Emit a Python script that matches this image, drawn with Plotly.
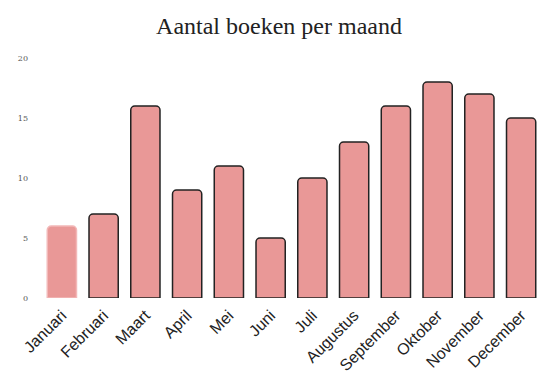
import plotly.graph_objects as go

months = ["Januari", "Februari", "Maart", "April", "Mei", "Juni", "Juli",
          "Augustus", "September", "Oktober", "November", "December"]
books = [6, 7, 16, 9, 11, 5, 10, 13, 16, 18, 17, 15]
outline_colors = ["#F2B8B8"] + ["#222222"] * 11

fig = go.Figure(go.Bar(
    x=months, y=books,
    marker=dict(color="#E99897", line=dict(color=outline_colors, width=1.5),
                cornerradius=4),
))

# page body has an 8px default margin, so the figure is sized to fit inside
W, H = 541, 381
fig.update_layout(
    width=W, height=H,
    paper_bgcolor="white", plot_bgcolor="white",
    margin=dict(l=33, r=7, t=50, b=91, autoexpand=False),
    bargap=0.3,
    showlegend=False,
    title=dict(text="Aantal boeken per maand", x=(279 - 8) / W, xanchor="center",
               y=1 - 18 / H, yanchor="middle",
               font=dict(family="Liberation Serif", size=24, color="#222")),
    xaxis=dict(tickangle=-45, showgrid=False, showline=False, zeroline=False,
               automargin=False, ticklabelstandoff=4,
               tickfont=dict(family="Liberation Sans", size=16, color="#222")),
    yaxis=dict(range=[0, 20], tickvals=[0, 5, 10, 15, 20], showgrid=False,
               zeroline=False, showline=False, ticklabelstandoff=12,
               automargin=False,
               tickfont=dict(family="DejaVu Serif", size=8, color="#555")),
)

fig.write_html("out.html")
